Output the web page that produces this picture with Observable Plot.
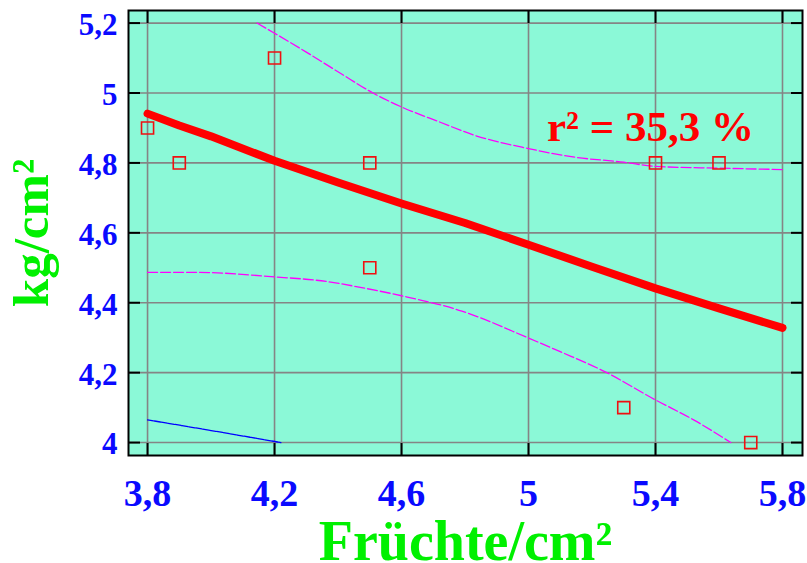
<!DOCTYPE html>
<html>
<head>
<meta charset="utf-8">
<script src="https://cdn.jsdelivr.net/npm/d3@7"></script>
<script src="https://cdn.jsdelivr.net/npm/@observablehq/plot@0.6"></script>
<style>
  html, body { margin: 0; padding: 0; background: #ffffff; }
</style>
</head>
<body>
<script>
// Observations: fruits per cm² vs. firmness (kg/cm²)
const obsX = [3.8, 3.9, 4.2, 4.5, 4.5, 5.3, 5.4, 5.6, 5.7];
const obsY = [4.9, 4.8, 5.1, 4.8, 4.5, 4.1, 4.8, 4.8, 4.0];

// Fitted regression line
const fitX = [3.8, 3.9, 4.0, 4.2, 4.4, 4.6, 4.8, 5.0, 5.2, 5.4, 5.6, 5.8];
const fitY = [4.941, 4.907, 4.876, 4.806, 4.744, 4.684, 4.628, 4.566, 4.503, 4.441, 4.384, 4.328];

// Upper and lower limits (dashed magenta)
const upperX = [4.145, 4.2, 4.3, 4.41, 4.51, 4.6, 4.72, 4.83, 5.0, 5.14, 5.3, 5.4, 5.6, 5.8];
const upperY = [5.2, 5.171, 5.117, 5.055, 5.0, 4.96, 4.917, 4.879, 4.841, 4.817, 4.802, 4.79, 4.785, 4.781];
const lowerX = [3.8, 3.95, 4.2, 4.37, 4.47, 4.6, 4.79, 5.0, 5.1, 5.24, 5.4, 5.52, 5.637];
const lowerY = [4.487, 4.487, 4.474, 4.46, 4.444, 4.42, 4.376, 4.299, 4.26, 4.203, 4.122, 4.065, 4.0];

// Lower prediction limit (blue)
const predX = [3.8, 4.01, 4.22];
const predY = [4.065, 4.033, 4.0];

// Axis ticks and labels
const xTicks = [3.8, 4.2, 4.6, 5.0, 5.4, 5.8];
const yTicks = [4.0, 4.2, 4.4, 4.6, 4.8, 5.0, 5.2];
const xDomain = [3.74, 5.863];
const yDomain = [3.963, 5.236];
const xTitle = "Früchte/cm²";
const yTitle = "kg/cm²";
const r2Label = "r² = 35,3 %";

const pts = (xs, ys) => xs.map((x, i) => ({x, y: ys[i]}));
const comma = d => String(d).replace(".", ",");

const serif = "'Liberation Serif', 'Times New Roman', serif";
const bg = "#8bf9d7";
const gridColor = "#858585";
const tickBlue = "#0a0aff";
const titleGreen = "#00f000";

const chart = Plot.plot({
  width: 807,
  height: 563,
  marginLeft: 128,
  marginRight: 5,
  marginTop: 10,
  marginBottom: 108,
  x: {domain: xDomain},
  y: {domain: yDomain},
  marks: [
    Plot.frame({fill: bg}),
    Plot.gridX(xTicks, {stroke: gridColor, strokeOpacity: 1, strokeWidth: 1.6}),
    Plot.gridY(yTicks, {stroke: gridColor, strokeOpacity: 1, strokeWidth: 1.6}),
    Plot.line(pts(predX, predY), {x: "x", y: "y", stroke: "#0000ff", strokeWidth: 1.3, strokeDasharray: "6,1"}),
    Plot.line(pts(lowerX, lowerY), {x: "x", y: "y", stroke: "#ff00ff", strokeWidth: 1.3, strokeDasharray: "10,3", curve: "monotone-x"}),
    Plot.line(pts(upperX, upperY), {x: "x", y: "y", stroke: "#ff00ff", strokeWidth: 1.3, strokeDasharray: "10,3", curve: "monotone-x"}),
    Plot.line(pts(fitX, fitY), {x: "x", y: "y", stroke: "#ff0000", strokeWidth: 8, strokeLinecap: "round", strokeLinejoin: "round"}),
    Plot.dot(pts(obsX, obsY), {x: "x", y: "y", symbol: "square", r: 6.8, stroke: "#f01010", strokeWidth: 1.6, fill: "none"}),
    Plot.frame({stroke: "#000000", strokeWidth: 2}),
    // inward ticks on all four sides
    Plot.axisX(xTicks, {anchor: "bottom", tickSize: -12, stroke: "#000", strokeWidth: 2, fill: "none", label: null}),
    Plot.axisX(xTicks, {anchor: "top", tickSize: -12, stroke: "#000", strokeWidth: 2, fill: "none", label: null}),
    Plot.axisY(yTicks, {anchor: "left", tickSize: -12, stroke: "#000", strokeWidth: 2, fill: "none", label: null}),
    Plot.axisY(yTicks, {anchor: "right", tickSize: -12, stroke: "#000", strokeWidth: 2, fill: "none", label: null}),
    // tick labels
    Plot.axisX(xTicks, {anchor: "bottom", tickSize: 0, tickPadding: 24, stroke: "none", fill: tickBlue,
      tickFormat: comma, fontSize: 38, fontWeight: "bold", fontFamily: serif, label: null}),
    Plot.axisY(yTicks, {anchor: "left", tickSize: 0, tickPadding: 11, stroke: "none", fill: tickBlue,
      tickFormat: comma, fontSize: 31, fontWeight: "bold", fontFamily: serif, dy: 2, label: null}),
    // titles
    Plot.text([xTitle], {frameAnchor: "bottom", textAnchor: "middle", lineAnchor: "bottom", dy: 104, text: d => d,
      fill: titleGreen, fontSize: 56, fontWeight: "bold", fontFamily: serif}),
    Plot.text([yTitle], {frameAnchor: "left", textAnchor: "middle", lineAnchor: "bottom", rotate: -90, dx: -81, text: d => d,
      fill: titleGreen, fontSize: 51, fontWeight: "bold", fontFamily: serif}),
    Plot.text([r2Label], {frameAnchor: "top-right", textAnchor: "middle", lineAnchor: "bottom", dx: -152, dy: 130,
      text: d => d, fill: "#ff0000", fontSize: 43, fontWeight: "bold", fontFamily: serif})
  ]
});

document.body.append(chart);
</script>
</body>
</html>
